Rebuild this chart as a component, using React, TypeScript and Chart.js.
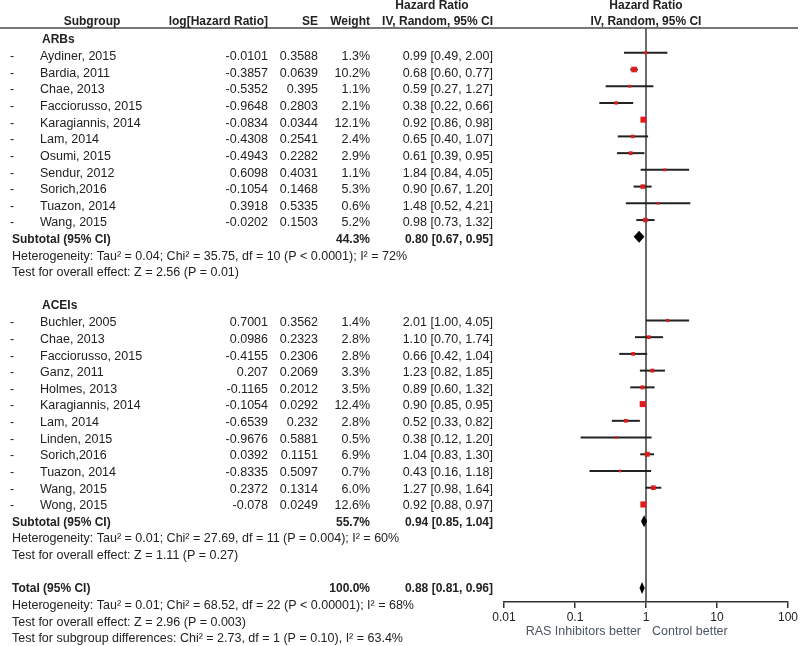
import React, { useEffect, useRef } from 'react';
import { Chart, registerables } from 'chart.js';

Chart.register(...registerables);

// ---------- DATA ----------
const arbNames = ['Aydiner, 2015', 'Bardia, 2011', 'Chae, 2013', 'Facciorusso, 2015', 'Karagiannis, 2014', 'Lam, 2014', 'Osumi, 2015', 'Sendur, 2012', 'Sorich,2016', 'Tuazon, 2014', 'Wang, 2015'];
const arbLogHR = ['-0.0101', '-0.3857', '-0.5352', '-0.9648', '-0.0834', '-0.4308', '-0.4943', '0.6098', '-0.1054', '0.3918', '-0.0202'];
const arbSE = ['0.3588', '0.0639', '0.395', '0.2803', '0.0344', '0.2541', '0.2282', '0.4031', '0.1468', '0.5335', '0.1503'];
const arbWeight = [1.3, 10.2, 1.1, 2.1, 12.1, 2.4, 2.9, 1.1, 5.3, 0.6, 5.2];
const arbHR = [0.99, 0.68, 0.59, 0.38, 0.92, 0.65, 0.61, 1.84, 0.90, 1.48, 0.98];
const arbLo = [0.49, 0.60, 0.27, 0.22, 0.86, 0.40, 0.39, 0.84, 0.67, 0.52, 0.73];
const arbHi = [2.00, 0.77, 1.27, 0.66, 0.98, 1.07, 0.95, 4.05, 1.20, 4.21, 1.32];

const aceiNames = ['Buchler, 2005', 'Chae, 2013', 'Facciorusso, 2015', 'Ganz, 2011', 'Holmes, 2013', 'Karagiannis, 2014', 'Lam, 2014', 'Linden, 2015', 'Sorich,2016', 'Tuazon, 2014', 'Wang, 2015', 'Wong, 2015'];
const aceiLogHR = ['0.7001', '0.0986', '-0.4155', '0.207', '-0.1165', '-0.1054', '-0.6539', '-0.9676', '0.0392', '-0.8335', '0.2372', '-0.078'];
const aceiSE = ['0.3562', '0.2323', '0.2306', '0.2069', '0.2012', '0.0292', '0.232', '0.5881', '0.1151', '0.5097', '0.1314', '0.0249'];
const aceiWeight = [1.4, 2.8, 2.8, 3.3, 3.5, 12.4, 2.8, 0.5, 6.9, 0.7, 6.0, 12.6];
const aceiHR = [2.01, 1.10, 0.66, 1.23, 0.89, 0.90, 0.52, 0.38, 1.04, 0.43, 1.27, 0.92];
const aceiLo = [1.00, 0.70, 0.42, 0.82, 0.60, 0.85, 0.33, 0.12, 0.83, 0.16, 0.98, 0.88];
const aceiHi = [4.05, 1.74, 1.04, 1.85, 1.32, 0.95, 0.82, 1.20, 1.30, 1.18, 1.64, 0.97];

const groupLabels = ['ARBs', 'ACEIs'];
const summaryLabels = ['Subtotal (95% CI)', 'Subtotal (95% CI)', 'Total (95% CI)'];
const summaryWeight = ['44.3%', '55.7%', '100.0%'];
const summaryHR = [0.80, 0.94, 0.88];
const summaryLo = [0.67, 0.85, 0.81];
const summaryHi = [0.95, 1.04, 0.96];

const arbNotes = [
  'Heterogeneity: Tau\u00B2 = 0.04; Chi\u00B2 = 35.75, df = 10 (P < 0.0001); I\u00B2 = 72%',
  'Test for overall effect: Z = 2.56 (P = 0.01)',
];
const aceiNotes = [
  'Heterogeneity: Tau\u00B2 = 0.01; Chi\u00B2 = 27.69, df = 11 (P = 0.004); I\u00B2 = 60%',
  'Test for overall effect: Z = 1.11 (P = 0.27)',
];
const totalNotes = [
  'Heterogeneity: Tau\u00B2 = 0.01; Chi\u00B2 = 68.52, df = 22 (P < 0.00001); I\u00B2 = 68%',
  'Test for overall effect: Z = 2.96 (P = 0.003)',
  'Test for subgroup differences: Chi\u00B2 = 2.73, df = 1 (P = 0.10), I\u00B2 = 63.4%',
];

const tickValues = [0.01, 0.1, 1, 10, 100];
const tickLabels = ['0.01', '0.1', '1', '10', '100'];
const favourLeft = 'RAS Inhibitors better';
const favourRight = 'Control better';

// ---------- ROW LAYOUT (row indices) ----------
type Study = { name: string; logHR: string; se: string; w: number; hr: number; lo: number; hi: number; row: number };
type Summary = { label: string; w: string; hr: number; lo: number; hi: number; row: number };

const studies: Study[] = [];
arbNames.forEach((n, i) => studies.push({ name: n, logHR: arbLogHR[i], se: arbSE[i], w: arbWeight[i], hr: arbHR[i], lo: arbLo[i], hi: arbHi[i], row: 1 + i }));
aceiNames.forEach((n, i) => studies.push({ name: n, logHR: aceiLogHR[i], se: aceiSE[i], w: aceiWeight[i], hr: aceiHR[i], lo: aceiLo[i], hi: aceiHi[i], row: 17 + i }));

const summaryRows = [12, 29, 33];
const summaries: Summary[] = summaryLabels.map((l, i) => ({ label: l, w: summaryWeight[i], hr: summaryHR[i], lo: summaryLo[i], hi: summaryHi[i], row: summaryRows[i] }));
const groupRows = [0, 16];
const noteRows: [string, number][] = [
  ...arbNotes.map((t, i) => [t, 13 + i] as [string, number]),
  ...aceiNotes.map((t, i) => [t, 30 + i] as [string, number]),
  ...totalNotes.map((t, i) => [t, 34 + i] as [string, number]),
];

const FONT = '"Liberation Sans", Arial, sans-serif';
const TEXT = '#222';
const textY = (r: number) => 40.1 + 16.63 * r;

const squareSide = (w: number) => 1.5 + 1.3 * Math.sqrt(w);

const forestPlugin = {
  id: 'forest',
  beforeDatasetsDraw(chart: any) {
    const { ctx, chartArea, scales } = chart;
    const x = scales.x;
    const y = scales.y;
    ctx.save();
    // line of no effect
    const x1 = x.getPixelForValue(1);
    ctx.strokeStyle = '#3a3a3a';
    ctx.lineWidth = 1.5;
    ctx.beginPath();
    ctx.moveTo(x1, chartArea.top);
    ctx.lineTo(x1, chartArea.bottom);
    ctx.stroke();
    // CIs
    ctx.strokeStyle = '#222';
    ctx.lineWidth = 2;
    studies.forEach((s) => {
      const py = y.getPixelForValue(s.row);
      ctx.beginPath();
      ctx.moveTo(x.getPixelForValue(s.lo), py);
      ctx.lineTo(x.getPixelForValue(s.hi), py);
      ctx.stroke();
    });
    // diamonds
    ctx.fillStyle = '#000';
    summaries.forEach((s) => {
      const py = y.getPixelForValue(s.row);
      const xl = x.getPixelForValue(s.lo);
      const xr = x.getPixelForValue(s.hi);
      const xc = x.getPixelForValue(s.hr);
      ctx.beginPath();
      ctx.moveTo(xl, py);
      ctx.lineTo(xc, py - 6);
      ctx.lineTo(xr, py);
      ctx.lineTo(xc, py + 6);
      ctx.closePath();
      ctx.fill();
    });
    ctx.restore();
  },
  afterDraw(chart: any) {
    const { ctx, scales } = chart;
    const x = scales.x;
    ctx.save();
    // header rule
    ctx.strokeStyle = '#4a4a4a';
    ctx.lineWidth = 1.5;
    ctx.beginPath();
    ctx.moveTo(0, chart.chartArea.top);
    ctx.lineTo(798, chart.chartArea.top);
    ctx.stroke();

    const reg = `12.5px ${FONT}`;
    const bold = `bold 12px ${FONT}`;
    ctx.textBaseline = 'middle';
    ctx.fillStyle = TEXT;
    const put = (t: string, px: number, py: number, align: CanvasTextAlign, f: string) => {
      ctx.font = f;
      ctx.textAlign = align;
      ctx.fillText(t, px, py);
    };
    // headers
    const xc1 = x.getPixelForValue(1);
    put('Hazard Ratio', 432, 6, 'center', bold);
    put('Hazard Ratio', xc1, 6, 'center', bold);
    put('Subgroup', 92, 21.5, 'center', bold);
    put('log[Hazard Ratio]', 268, 21.5, 'right', bold);
    put('SE', 318, 21.5, 'right', bold);
    put('Weight', 370, 21.5, 'right', bold);
    put('IV, Random, 95% CI', 493, 21.5, 'right', bold);
    put('IV, Random, 95% CI', xc1, 21.5, 'center', bold);

    groupLabels.forEach((g, i) => put(g, 42, textY(groupRows[i]), 'left', bold));
    studies.forEach((s) => {
      const py = textY(s.row);
      put('-', 10, py, 'left', reg);
      put(s.name, 40, py, 'left', reg);
      put(s.logHR, 268, py, 'right', reg);
      put(s.se, 318, py, 'right', reg);
      put(s.w.toFixed(1) + '%', 370, py, 'right', reg);
      put(`${s.hr.toFixed(2)} [${s.lo.toFixed(2)}, ${s.hi.toFixed(2)}]`, 493, py, 'right', reg);
    });
    summaries.forEach((s) => {
      const py = textY(s.row);
      put(s.label, 12, py, 'left', bold);
      put(s.w, 370, py, 'right', bold);
      put(`${s.hr.toFixed(2)} [${s.lo.toFixed(2)}, ${s.hi.toFixed(2)}]`, 493, py, 'right', bold);
    });
    noteRows.forEach(([t, r]) => put(t, 12, textY(r), 'left', reg));

    // favour labels
    ctx.fillStyle = '#4b5563';
    put(favourLeft, xc1 - 5, 632, 'right', reg);
    put(favourRight, xc1 + 6, 632, 'left', reg);
    ctx.restore();
  },
};

export default function App() {
  const ref = useRef<HTMLCanvasElement | null>(null);
  useEffect(() => {
    if (!ref.current) return;
    const chart = new Chart(ref.current, {
      type: 'scatter',
      data: {
        datasets: [
          {
            data: studies.map((s) => ({ x: s.hr, y: s.row })),
            pointStyle: 'rect',
            pointRadius: studies.map((s) => squareSide(s.w) / Math.SQRT2),
            backgroundColor: '#e01b1b',
            borderWidth: 0,
          } as any,
        ],
      },
      options: {
        responsive: false,
        animation: false,
        events: [],
        layout: { padding: { left: 504, right: 12, top: 28, bottom: 0 } },
        plugins: { legend: { display: false }, tooltip: { enabled: false } },
        scales: {
          x: {
            type: 'logarithmic',
            min: 0.01,
            max: 100,
            afterBuildTicks: (scale: any) => {
              scale.ticks = tickValues.map((v) => ({ value: v }));
            },
            afterFit: (scale: any) => {
              scale.height = 44;
            },
            ticks: {
              autoSkip: false,
              maxRotation: 0,
              padding: 2,
              color: '#222',
              font: { family: FONT, size: 12 },
              callback: (v: any) => {
                const i = tickValues.indexOf(Number(v));
                return i >= 0 ? tickLabels[i] : '';
              },
            },
            grid: { drawOnChartArea: false, drawTicks: true, tickLength: 6, color: '#333', lineWidth: 1.5 },
            border: { display: true, color: '#333', width: 1.5 },
          },
          y: {
            type: 'linear',
            display: false,
            reverse: true,
            min: -0.48,
            max: 33.83,
          },
        },
      } as any,
      plugins: [forestPlugin],
    });
    return () => chart.destroy();
  }, []);
  return (
    <div style={{ position: 'absolute', left: 0, top: 0, width: 800, height: 646, background: '#fff' }}>
      <canvas ref={ref} width={800} height={646} />
    </div>
  );
}
